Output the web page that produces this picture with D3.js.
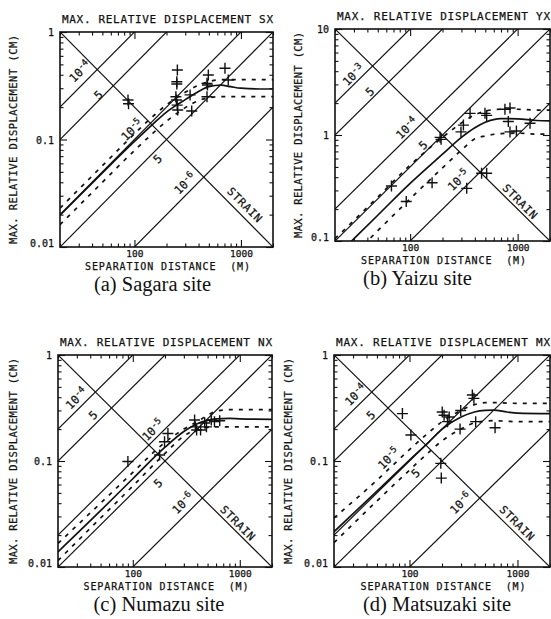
<!DOCTYPE html>
<html>
<head>
<meta charset="utf-8">
<script src="https://cdn.jsdelivr.net/npm/d3@7"></script>
<style>
  body { margin: 0; background: #fff; }
  svg { display: block; }
  .plot text { font-family: "DejaVu Sans Mono", "Liberation Mono", monospace; fill: #111; stroke: #111; stroke-width: 0.25; }
  .caption { font-family: "Liberation Serif", "Times New Roman", serif; font-size: 20.5px; fill: #111; }
</style>
</head>
<body>
<svg width="551" height="619"></svg>
<script>
// ---- data (distance in m, displacement in cm) ----

// (a) Sagara
const sagaraCurveDist = [20, 50, 100, 150, 200, 250, 300, 400, 500, 650, 800, 1000, 1500, 2000];
const sagaraMean  = [0.0198, 0.049, 0.096, 0.14, 0.18, 0.21, 0.235, 0.28, 0.31, 0.32, 0.31, 0.30, 0.295, 0.295];
const sagaraUpper = [0.023, 0.057, 0.113, 0.165, 0.21, 0.245, 0.275, 0.32, 0.345, 0.36, 0.36, 0.36, 0.36, 0.36];
const sagaraLower = [0.0161, 0.04, 0.079, 0.115, 0.148, 0.175, 0.198, 0.23, 0.245, 0.25, 0.25, 0.25, 0.25, 0.25];
const sagaraObsDist = [87, 88, 253, 250, 250, 245, 248, 252, 255, 333, 345, 494, 480, 485, 480, 708, 760];
const sagaraObsDisp = [0.233, 0.215, 0.443, 0.345, 0.328, 0.25, 0.233, 0.209, 0.188, 0.26, 0.184, 0.398, 0.333, 0.321, 0.25, 0.46, 0.358];

// (b) Yaizu
const yaizuCurveDist = [20, 50, 100, 200, 300, 400, 500, 700, 1000, 1500, 2000];
const yaizuMean  = [0.07, 0.175, 0.35, 0.66, 0.95, 1.17, 1.32, 1.43, 1.42, 1.37, 1.36];
const yaizuUpper = [0.105, 0.26, 0.52, 0.95, 1.3, 1.55, 1.68, 1.75, 1.75, 1.72, 1.72];
const yaizuLower = [0.05, 0.125, 0.25, 0.49, 0.72, 0.92, 0.98, 1.03, 1.04, 1.02, 1.02];
const yaizuObsDist = [67, 92, 160, 190, 194, 297, 313, 361, 497, 515, 762, 849, 819, 849, 974, 1304, 336, 462, 515];
const yaizuObsDisp = [0.33, 0.236, 0.355, 0.95, 0.91, 1.07, 1.24, 1.6, 1.6, 1.53, 1.75, 1.8, 1.34, 1.07, 1.09, 1.29, 0.314, 0.435, 0.435];

// (c) Numazu
const numazuCurveDist = [20, 50, 100, 200, 300, 400, 500, 600, 800, 1000, 2000];
const numazuMean  = [0.0139, 0.034, 0.068, 0.135, 0.19, 0.225, 0.242, 0.25, 0.252, 0.25, 0.247];
const numazuUpper = [0.0167, 0.04, 0.078, 0.15, 0.2, 0.235, 0.27, 0.295, 0.305, 0.305, 0.305];
const numazuLower = [0.0115, 0.029, 0.058, 0.118, 0.172, 0.2, 0.208, 0.21, 0.21, 0.21, 0.21];
const numazuObsDist = [90, 178, 198, 213, 378, 385, 395, 430, 470, 488, 542, 580, 649];
const numazuObsDisp = [0.099, 0.114, 0.152, 0.182, 0.244, 0.21, 0.196, 0.196, 0.228, 0.21, 0.244, 0.235, 0.24];

// (d) Matsuzaki
const matsuzakiCurveDist = [20, 50, 100, 150, 200, 300, 400, 500, 600, 800, 1000, 2000];
const matsuzakiMean  = [0.0215, 0.052, 0.102, 0.15, 0.2, 0.26, 0.29, 0.3, 0.302, 0.29, 0.283, 0.28];
const matsuzakiUpper = [0.029, 0.066, 0.128, 0.185, 0.235, 0.3, 0.34, 0.355, 0.355, 0.352, 0.35, 0.35];
const matsuzakiLower = [0.017, 0.042, 0.082, 0.12, 0.155, 0.2, 0.23, 0.238, 0.24, 0.237, 0.235, 0.235];
const matsuzakiObsDist = [86, 103, 195, 197, 201, 209, 233, 225, 298, 294, 382, 395, 410, 620];
const matsuzakiObsDisp = [0.28, 0.176, 0.095, 0.069, 0.29, 0.27, 0.26, 0.235, 0.30, 0.2, 0.42, 0.39, 0.235, 0.206];

// strain reference lines and their labels
const strainsSmall = [1e-4, 5e-5, 1e-5, 5e-6, 1e-6];
const strainsLarge = [1e-3, 5e-4, 1e-4, 5e-5, 1e-5];
const strainTextSmall = [["10", "-4"], ["5", ""], ["10", "-5"], ["5", ""], ["10", "-6"]];
const strainTextLarge = [["10", "-3"], ["5", ""], ["10", "-4"], ["5", ""], ["10", "-5"]];

// axis ticks
const xDomain = [20, 2000];
const xMajor = [100, 1000];

// ---- layout ----
const panels = [
  {
    id: "a", title: "MAX. RELATIVE DISPLACEMENT SX", caption: "(a) Sagara site", captionDx: -14,
    frame: { x0: 60, x1: 273, y0: 32, y1: 247 }, yDomain: [0.01, 1], yMajor: [0.01, 0.1, 1], ylabGap: 47,
    dist: sagaraCurveDist, mean: sagaraMean, upper: sagaraUpper, lower: sagaraLower,
    obsDist: sagaraObsDist, obsDisp: sagaraObsDisp,
    strains: strainsSmall, strainText: strainTextSmall,
    labelAt: [[30.8, 0.43], [45.8, 0.26], [94.6, 0.123], [165, 0.066], [298, 0.039]], strainAt: [1094, 0.0246]
  },
  {
    id: "b", title: "MAX. RELATIVE DISPLACEMENT YX", caption: "(b) Yaizu site", captionDx: -25,
    frame: { x0: 335, x1: 550, y0: 29, y1: 241 }, yDomain: [0.1, 10], yMajor: [0.1, 1, 10], ylabGap: 37,
    dist: yaizuCurveDist, mean: yaizuMean, upper: yaizuUpper, lower: yaizuLower,
    obsDist: yaizuObsDist, obsDisp: yaizuObsDisp,
    strains: strainsLarge, strainText: strainTextLarge,
    labelAt: [[29.6, 3.68], [42.3, 2.56], [93, 1.16], [132, 0.8], [281, 0.376]], strainAt: [1056, 0.235]
  },
  {
    id: "c", title: "MAX. RELATIVE DISPLACEMENT NX", caption: "(c) Numazu site", captionDx: -6,
    frame: { x0: 58, x1: 272, y0: 355, y1: 567 }, yDomain: [0.01, 1], yMajor: [0.01, 0.1, 1], ylabGap: 45,
    dist: numazuCurveDist, mean: numazuMean, upper: numazuUpper, lower: numazuLower,
    obsDist: numazuObsDist, obsDisp: numazuObsDisp,
    strains: strainsSmall, strainText: strainTextSmall,
    labelAt: [[29.7, 0.39], [42.5, 0.27], [154, 0.196], [172, 0.0616], [294, 0.04]], strainAt: [962, 0.0258]
  },
  {
    id: "d", title: "MAX. RELATIVE DISPLACEMENT MX", caption: "(d) Matsuzaki site", captionDx: -5,
    frame: { x0: 334, x1: 550, y0: 355, y1: 567 }, yDomain: [0.01, 1], yMajor: [0.01, 0.1, 1], ylabGap: 46,
    dist: matsuzakiCurveDist, mean: matsuzakiMean, upper: matsuzakiUpper, lower: matsuzakiLower,
    obsDist: matsuzakiObsDist, obsDisp: matsuzakiObsDisp,
    strains: strainsSmall, strainText: strainTextSmall,
    labelAt: [[31.7, 0.42], [43.8, 0.27], [64, 0.106], [114, 0.0766], [298, 0.04]], strainAt: [995, 0.0258]
  }
];

const svg = d3.select("svg");

// 1..9 multiples of each decade inside a domain
function minorTicks(domain) {
  const out = [];
  for (let e = -3; e <= 4; e++) {
    for (let m = 1; m <= 9; m++) {
      const v = +(m * Math.pow(10, e)).toPrecision(3);
      if (v >= domain[0] * 0.999 && v <= domain[1] * 1.001) out.push(v);
    }
  }
  return out;
}

function drawPanel(p) {
  const { x0, x1, y0, y1 } = p.frame;
  const x = d3.scaleLog().domain(xDomain).range([x0, x1]);
  const y = d3.scaleLog().domain(p.yDomain).range([y1, y0]);

  const g = svg.append("g").attr("class", "plot");

  g.append("clipPath").attr("id", "clip-" + p.id)
    .append("rect").attr("x", x0).attr("y", y0).attr("width", x1 - x0).attr("height", y1 - y0);
  const inner = g.append("g").attr("clip-path", `url(#clip-${p.id})`);

  // ticks, pointing inward on all four sides; decades twice as long
  const xMinor = minorTicks(xDomain);
  const yMinor = minorTicks(p.yDomain);
  const sides = [
    { ax: d3.axisBottom(x).tickValues(xMinor), tr: `translate(0,${y1})`, attr: "y2", major: xMajor },
    { ax: d3.axisTop(x).tickValues(xMinor), tr: `translate(0,${y0})`, attr: "y2", major: xMajor },
    { ax: d3.axisLeft(y).tickValues(yMinor), tr: `translate(${x0},0)`, attr: "x2", major: p.yMajor },
    { ax: d3.axisRight(y).tickValues(yMinor), tr: `translate(${x1},0)`, attr: "x2", major: p.yMajor }
  ];
  sides.forEach(s => {
    const a = g.append("g").attr("transform", s.tr)
      .call(s.ax.tickSize(-3.5).tickFormat(""));
    a.select(".domain").remove();
    a.selectAll(".tick line")
      .attr("stroke", "#111").attr("stroke-width", 1.1)
      .filter(d => s.major.includes(d))
      .attr(s.attr, function () { return +d3.select(this).attr(s.attr) * 2; });
  });

  // tick labels
  const xl = g.append("g").attr("transform", `translate(0,${y1})`)
    .call(d3.axisBottom(x).tickValues(xMajor).tickSize(0).tickPadding(3).tickFormat(d3.format("d")));
  xl.select(".domain").remove();
  xl.selectAll("text").attr("font-size", 9.5).attr("font-family", null);

  const yl = g.append("g").attr("transform", `translate(${x0},0)`)
    .call(d3.axisLeft(y).tickValues(p.yMajor).tickSize(0).tickPadding(6).tickFormat(d => String(d)));
  yl.select(".domain").remove();
  yl.selectAll("text").attr("font-size", 10).attr("font-family", null)
    .attr("dy", d => d === p.yDomain[0] ? "-0.1em" : "0.35em");

  // strain reference lines D = strain * L(m) * 100
  const ref = d3.line().x(d => x(d[0])).y(d => y(d[1]));
  p.strains.forEach(s => {
    inner.append("path")
      .datum(xDomain.map(L => [L, s * L * 100]))
      .attr("d", ref)
      .attr("fill", "none").attr("stroke", "#111").attr("stroke-width", 1.2);
  });
  // strain axis (descending diagonal)
  inner.append("path")
    .datum([[xDomain[0], p.yDomain[1]], [xDomain[1], p.yDomain[0]]])
    .attr("d", ref)
    .attr("fill", "none").attr("stroke", "#111").attr("stroke-width", 1.2);

  // strain labels
  p.strainText.forEach((t, i) => {
    const [L, D] = p.labelAt[i];
    const txt = g.append("text")
      .attr("transform", `translate(${x(L)},${y(D)}) rotate(-45)`)
      .attr("text-anchor", "middle").attr("dy", "0.35em")
      .attr("font-size", 11.5);
    txt.append("tspan").text(t[0]);
    if (t[1]) txt.append("tspan").attr("dy", "-0.45em").attr("font-size", 9).text(t[1]);
  });
  g.append("text")
    .attr("transform", `translate(${x(p.strainAt[0])},${y(p.strainAt[1])}) rotate(45)`)
    .attr("text-anchor", "middle").attr("dy", "0.35em")
    .attr("font-size", 11).attr("letter-spacing", 0.8)
    .text("STRAIN");

  // mean and +/- curves
  const curve = d3.line()
    .x((d, i) => x(p.dist[i]))
    .y(d => y(d))
    .curve(d3.curveMonotoneX);
  inner.append("path").datum(p.upper).attr("d", curve)
    .attr("fill", "none").attr("stroke", "#111").attr("stroke-width", 1.7).attr("stroke-dasharray", "4,6");
  inner.append("path").datum(p.lower).attr("d", curve)
    .attr("fill", "none").attr("stroke", "#111").attr("stroke-width", 1.7).attr("stroke-dasharray", "4,6");
  inner.append("path").datum(p.mean).attr("d", curve)
    .attr("fill", "none").attr("stroke", "#111").attr("stroke-width", 1.7);

  // observed maxima
  g.selectAll(".obs-" + p.id)
    .data(p.obsDist.map((L, i) => [L, p.obsDisp[i]]))
    .enter()
    .append("path")
    .attr("class", "obs-" + p.id)
    .attr("transform", d => `translate(${x(d[0])},${y(d[1])})`)
    .attr("d", "M-5.5,0H5.5M0,-5.5V5.5")
    .attr("stroke", "#111").attr("stroke-width", 1.4);

  // frame
  g.append("rect")
    .attr("x", x0).attr("y", y0).attr("width", x1 - x0).attr("height", y1 - y0)
    .attr("fill", "none").attr("stroke", "#111").attr("stroke-width", 1.6);

  // titles
  g.append("text")
    .attr("x", x0 + 2).attr("y", y0 - 9)
    .attr("font-size", 11).attr("textLength", x1 - x0 - 2).attr("lengthAdjust", "spacing")
    .text(p.title);

  g.append("text")
    .attr("transform", `translate(${x0 - p.ylabGap},${(y0 + y1) / 2}) rotate(-90)`)
    .attr("text-anchor", "middle").attr("dy", "0.35em")
    .attr("font-size", 10.5).attr("textLength", y1 - y0 - 6).attr("lengthAdjust", "spacing")
    .text("MAX. RELATIVE DISPLACEMENT (CM)");

  g.append("text")
    .attr("x", (x0 + x1) / 2 + 1).attr("y", y1 + 22.5)
    .attr("text-anchor", "middle")
    .attr("font-size", 10).attr("textLength", 165).attr("lengthAdjust", "spacing")
    .style("white-space", "pre")
    .text("SEPARATION DISTANCE  (M)");

  svg.append("text")
    .attr("class", "caption")
    .attr("x", (x0 + x1) / 2 + p.captionDx).attr("y", y1 + 44)
    .attr("text-anchor", "middle")
    .text(p.caption);
}

panels.forEach(drawPanel);
</script>
</body>
</html>
